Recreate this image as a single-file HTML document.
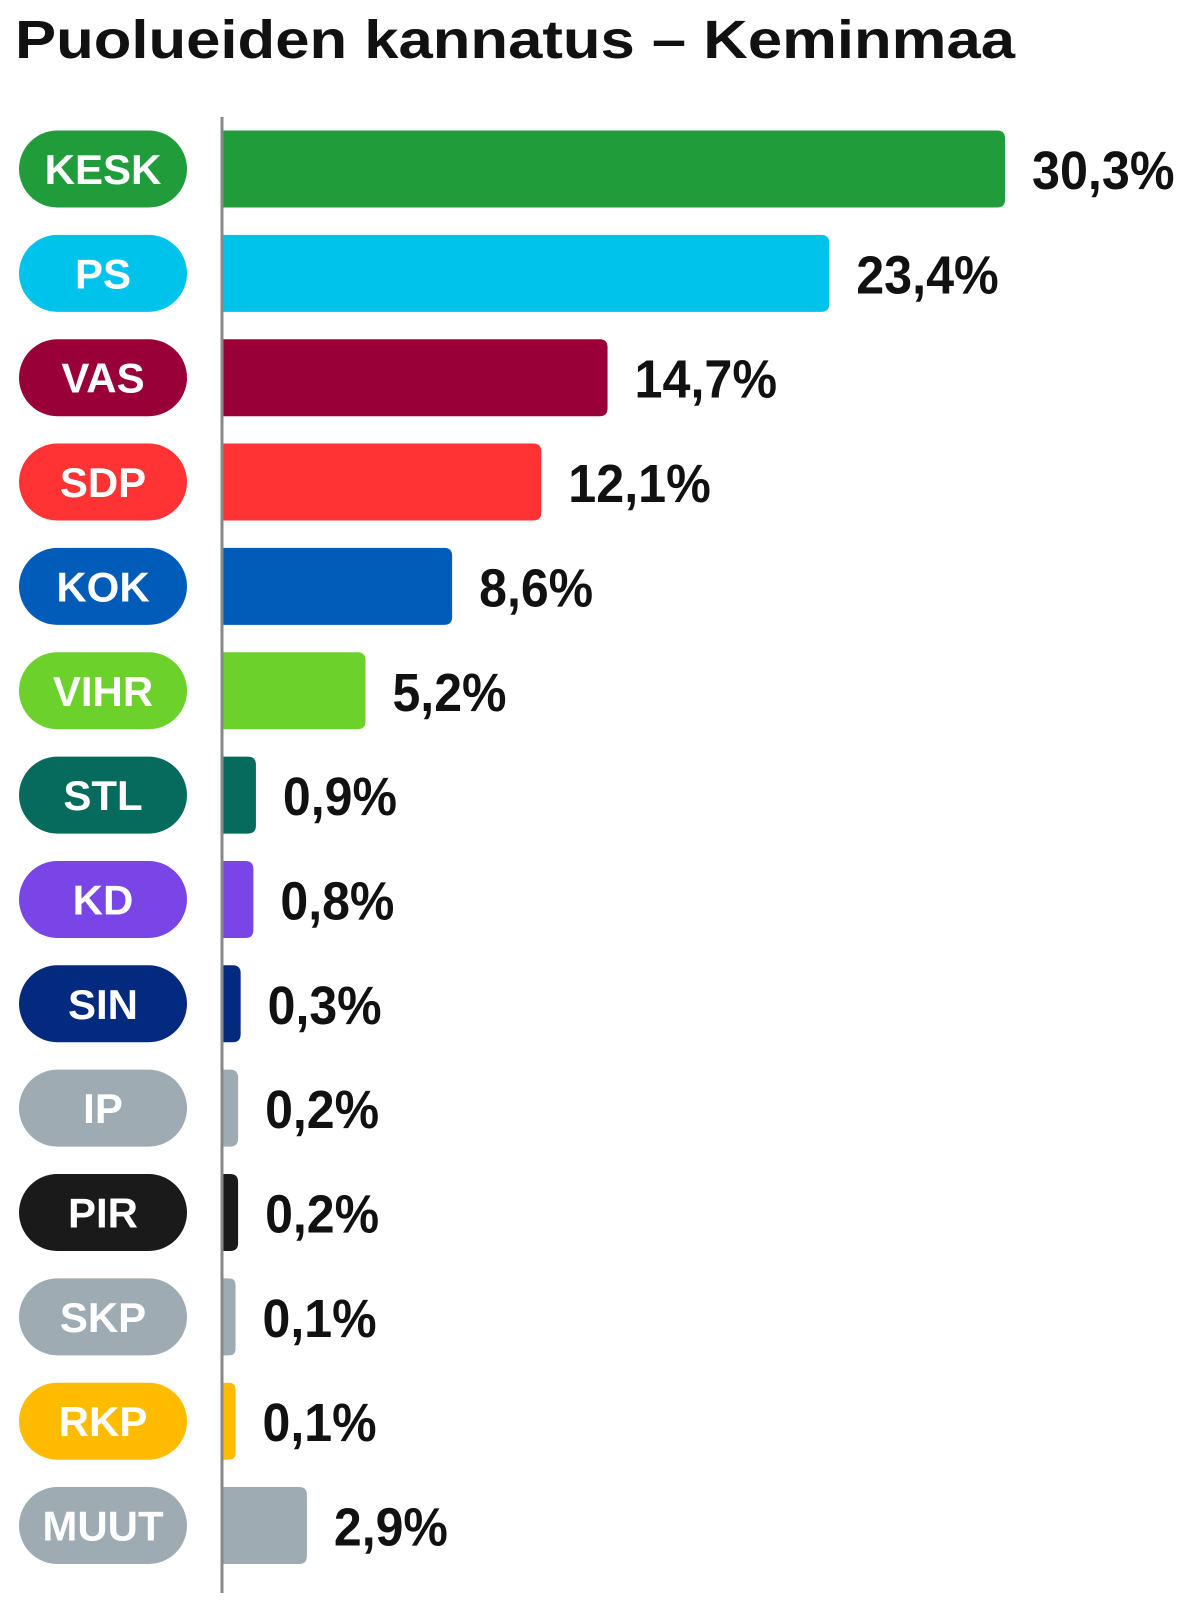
<!DOCTYPE html>
<html><head><meta charset="utf-8">
<style>
html,body{margin:0;padding:0;background:#fff;}
svg{display:block;font-family:"Liberation Sans",sans-serif;}
</style></head>
<body>
<svg id="chart" width="1199" height="1617" viewBox="0 0 1199 1617" xmlns="http://www.w3.org/2000/svg">
<text x="15" y="58" font-size="54" font-weight="bold" fill="#111" textLength="1000" lengthAdjust="spacingAndGlyphs">Puolueiden kannatus – Keminmaa</text>
<g id="rows"></g>
<line x1="222" y1="117" x2="222" y2="1593" stroke="#888" stroke-width="3"/>
</svg>
<script>
const parties = ["KESK","PS","VAS","SDP","KOK","VIHR","STL","KD","SIN","IP","PIR","SKP","RKP","MUUT"];
const values = [30.3,23.4,14.7,12.1,8.6,5.2,0.9,0.8,0.3,0.2,0.2,0.1,0.1,2.9];
const labels = ["30,3%","23,4%","14,7%","12,1%","8,6%","5,2%","0,9%","0,8%","0,3%","0,2%","0,2%","0,1%","0,1%","2,9%"];
const colors = ["#219c3b","#00c3ec","#990038","#ff3333","#005cb8","#6cd12b","#066b5c","#7a45e6","#032a7e","#9eabb3","#1a1a1a","#9eabb3","#ffbb00","#9eabb3"];

const NS="http://www.w3.org/2000/svg";
const x0=222;
function xLen(v){return 11+25.48*v;}
function yCenter(i){return 169+104.35*i;}
const H=77;
const g=document.getElementById('rows');
function mk(t,a){const e=document.createElementNS(NS,t);for(const k in a)e.setAttribute(k,a[k]);return e;}
parties.forEach((p,i)=>{
  const cy=yCenter(i);
  const pill=mk('rect',{x:19,y:cy-H/2,width:168,height:H,rx:38.5,fill:colors[i]});
  
  
  g.appendChild(pill);
  const pt=mk('text',{x:103,y:cy+15,'text-anchor':'middle','font-size':42,'font-weight':'bold',fill:'#fff'});
  
  
  pt.textContent=p;g.appendChild(pt);
  const w=xLen(values[i]);
  const r=Math.min(8,w/2);
  const d=`M${x0},${cy-H/2} H${x0+w-r} Q${x0+w},${cy-H/2} ${x0+w},${cy-H/2+r} V${cy+H/2-r} Q${x0+w},${cy+H/2} ${x0+w-r},${cy+H/2} H${x0} Z`;
  const bar=mk('path',{d:d,fill:colors[i]});
  
  
  g.appendChild(bar);
  const vt=mk('text',{x:x0+w+27,y:cy+20,'font-size':54,'font-weight':'bold',fill:'#111',textLength:labels[i].length*28.5,lengthAdjust:'spacingAndGlyphs'});
  
  
  vt.textContent=labels[i];g.appendChild(vt);
});
</script>
</body></html>
